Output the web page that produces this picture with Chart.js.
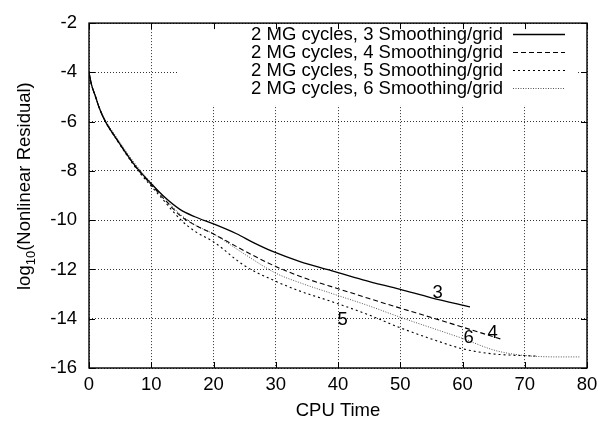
<!DOCTYPE html>
<html>
<head>
<meta charset="utf-8">
<script src="https://cdn.jsdelivr.net/npm/chart.js@4/dist/chart.umd.min.js"></script>
<style>
html,body{margin:0;padding:0;background:#fff;}
#c{display:block;}
</style>
</head>
<body>
<canvas id="c" width="605" height="426"></canvas>
<script>
// ---- data ----
const seriesNames = [
  "2 MG cycles, 3 Smoothing/grid",
  "2 MG cycles, 4 Smoothing/grid",
  "2 MG cycles, 5 Smoothing/grid",
  "2 MG cycles, 6 Smoothing/grid"
];
const x3 = [0, 0.4, 1, 1.7, 2.6, 4.2, 6, 7, 8, 9, 10, 12, 14.6, 17, 20, 23.7, 26.5, 29.6, 33.9, 38.7, 44, 50, 55, 61.2];
const y3 = [-4, -4.5, -4.95, -5.48, -5.98, -6.62, -7.3, -7.65, -7.97, -8.25, -8.52, -9.03, -9.56, -9.86, -10.15, -10.55, -10.92, -11.28, -11.68, -12.03, -12.42, -12.81, -13.15, -13.52];
const x4 = [0, 0.4, 1, 1.7, 2.6, 4.2, 6, 7, 8, 9, 10, 12, 14.6, 17, 20, 25, 30, 35, 40, 45, 50, 55, 60, 66.5];
const y4 = [-4, -4.5, -4.95, -5.48, -5.98, -6.62, -7.3, -7.66, -7.99, -8.28, -8.56, -9.12, -9.8, -10.2, -10.56, -11.25, -11.88, -12.38, -12.78, -13.18, -13.57, -13.95, -14.34, -14.85];
const x5 = [0, 0.4, 1, 1.7, 2.6, 4.2, 6, 7, 8, 9, 10, 12, 14.6, 17, 20, 25, 30, 34, 38.7, 45, 50, 55, 60, 65, 68, 70.3, 72.1];
const y5 = [-4, -4.5, -4.95, -5.48, -5.99, -6.64, -7.33, -7.7, -8.03, -8.33, -8.62, -9.2, -9.95, -10.45, -10.88, -11.85, -12.48, -12.89, -13.28, -13.85, -14.37, -14.82, -15.22, -15.43, -15.48, -15.5, -15.52];
const x6 = [0, 0.4, 1, 1.7, 2.6, 4.2, 6, 7, 8, 9, 10, 12, 14.6, 17, 20, 25, 30, 34, 38.7, 45, 50, 55, 60, 65, 68, 70.3, 72, 75, 79];
const y6 = [-4, -4.5, -4.93, -5.44, -5.93, -6.55, -7.22, -7.57, -7.9, -8.2, -8.48, -9.05, -9.75, -10.18, -10.56, -11.38, -12.15, -12.55, -12.95, -13.48, -13.94, -14.37, -14.8, -15.27, -15.43, -15.5, -15.53, -15.55, -15.55];
// curve labels: text, x, y (data coordinates)
const curveLabelText = ["3", "4", "5", "6"];
const curveLabelX = [56.0, 64.85, 40.75, 61.0];
const curveLabelY = [-12.92, -14.54, -14.0, -14.74];
// ticks
const xTicks = [0, 10, 20, 30, 40, 50, 60, 70, 80];
const yTicks = [-16, -14, -12, -10, -8, -6, -4, -2];

const FONT = '"Liberation Sans", Arial, Helvetica, sans-serif';
const FS = 18.5;

function pts(xs, ys){ return xs.map((x,i)=>({x:x, y:ys[i]})); }

const styles = [
  {dash: [], width: 1.3, color: '#000'},
  {dash: [5, 3], width: 1.1, color: '#000'},
  {dash: [2, 3], width: 1.1, color: '#000'},
  {dash: [1, 1.5], width: 1.0, color: '#555'}
];
const seriesData = [pts(x3,y3), pts(x4,y4), pts(x5,y5), pts(x6,y6)];

const datasets = seriesData.map((d,i)=>({
  label: seriesNames[i],
  data: d,
  borderColor: styles[i].color,
  borderWidth: styles[i].width,
  borderDash: styles[i].dash,
  pointRadius: 0,
  fill: false,
  cubicInterpolationMode: 'monotone'
}));

const decor = {
  id: 'decor',
  beforeDatasetsDraw(chart){
    const ctx = chart.ctx;
    ctx.save();
    ctx.fillStyle = '#fff';
    ctx.fillRect(177, chart.chartArea.top + 1, 400, 81);
    ctx.restore();
  },
  afterDatasetsDraw(chart){
    const ctx = chart.ctx;
    const a = chart.chartArea;
    const xs = chart.scales.x, ys = chart.scales.y;
    ctx.save();
    // frame
    ctx.strokeStyle = '#000';
    ctx.lineWidth = 1.4;
    ctx.setLineDash([]);
    ctx.strokeRect(a.left, a.top, a.right - a.left, a.bottom - a.top);
    // inward tick marks
    ctx.lineWidth = 1;
    const TL = 6;
    ctx.beginPath();
    xTicks.forEach(v=>{
      const p = Math.round(xs.getPixelForValue(v)) + 0.5;
      ctx.moveTo(p, a.bottom); ctx.lineTo(p, a.bottom - TL);
      ctx.moveTo(p, a.top); ctx.lineTo(p, a.top + TL);
    });
    yTicks.forEach(v=>{
      const p = Math.round(ys.getPixelForValue(v)) + 0.5;
      ctx.moveTo(a.left, p); ctx.lineTo(a.left + TL, p);
      ctx.moveTo(a.right, p); ctx.lineTo(a.right - TL, p);
    });
    ctx.stroke();
    // legend
    ctx.font = FS + 'px ' + FONT;
    ctx.fillStyle = '#000';
    ctx.textAlign = 'right';
    ctx.textBaseline = 'middle';
    const rows = [33.5, 51.8, 70.1, 88.4];
    seriesNames.forEach((n,i)=>{
      ctx.fillText(n, 503, rows[i] + 1);
      ctx.save();
      ctx.strokeStyle = styles[i].color;
      ctx.lineWidth = styles[i].width;
      ctx.setLineDash(styles[i].dash);
      ctx.beginPath();
      ctx.moveTo(513, Math.round(rows[i]) + 0.5);
      ctx.lineTo(565, Math.round(rows[i]) + 0.5);
      ctx.stroke();
      ctx.restore();
    });
    // curve labels
    ctx.textAlign = 'center';
    ctx.textBaseline = 'middle';
    curveLabelText.forEach((t,i)=>{
      ctx.fillText(t, xs.getPixelForValue(curveLabelX[i]), ys.getPixelForValue(curveLabelY[i]) + 1);
    });
    // y-axis title with subscript
    ctx.translate(30, 290);
    ctx.rotate(-Math.PI/2);
    ctx.textAlign = 'left';
    ctx.textBaseline = 'alphabetic';
    ctx.font = FS + 'px ' + FONT;
    ctx.fillText('log', 0, 0);
    let w = ctx.measureText('log').width;
    ctx.font = '13px ' + FONT;
    ctx.fillText('10', w, 4.5);
    w += ctx.measureText('10').width;
    ctx.font = FS + 'px ' + FONT;
    ctx.fillText('(Nonlinear Residual)', w, 0);
    ctx.restore();
  }
};

new Chart(document.getElementById('c'), {
  type: 'line',
  data: { datasets: datasets },
  plugins: [decor],
  options: {
    responsive: false,
    animation: false,
    devicePixelRatio: 1,
    layout: { padding: { top: 17, right: 18, left: 0, bottom: 0 } },
    plugins: { legend: { display: false }, tooltip: { enabled: false } },
    scales: {
      x: {
        type: 'linear', min: 0, max: 80,
        afterFit: s => { s.height = 58; },
        afterBuildTicks: s => { s.ticks = xTicks.map(v=>({value:v})); },
        ticks: { color: '#000', font: { family: FONT, size: FS }, padding: 6, maxRotation: 0, autoSkip: false },
        grid: { color: '#333', lineWidth: 1, drawTicks: false },
        border: { display: false, dash: [1, 2] },
        title: { display: true, text: 'CPU Time', color: '#000', font: { family: FONT, size: FS }, padding: { top: 0, bottom: 4 } }
      },
      y: {
        type: 'linear', min: -16, max: -2,
        afterFit: s => { s.width = 89; },
        afterBuildTicks: s => { s.ticks = yTicks.map(v=>({value:v})); },
        ticks: { color: '#000', font: { family: FONT, size: FS }, padding: 12, autoSkip: false, callback: v => String(v) },
        grid: { color: '#333', lineWidth: 1, drawTicks: false },
        border: { display: false, dash: [1, 2] }
      }
    }
  }
});
</script>
</body>
</html>
